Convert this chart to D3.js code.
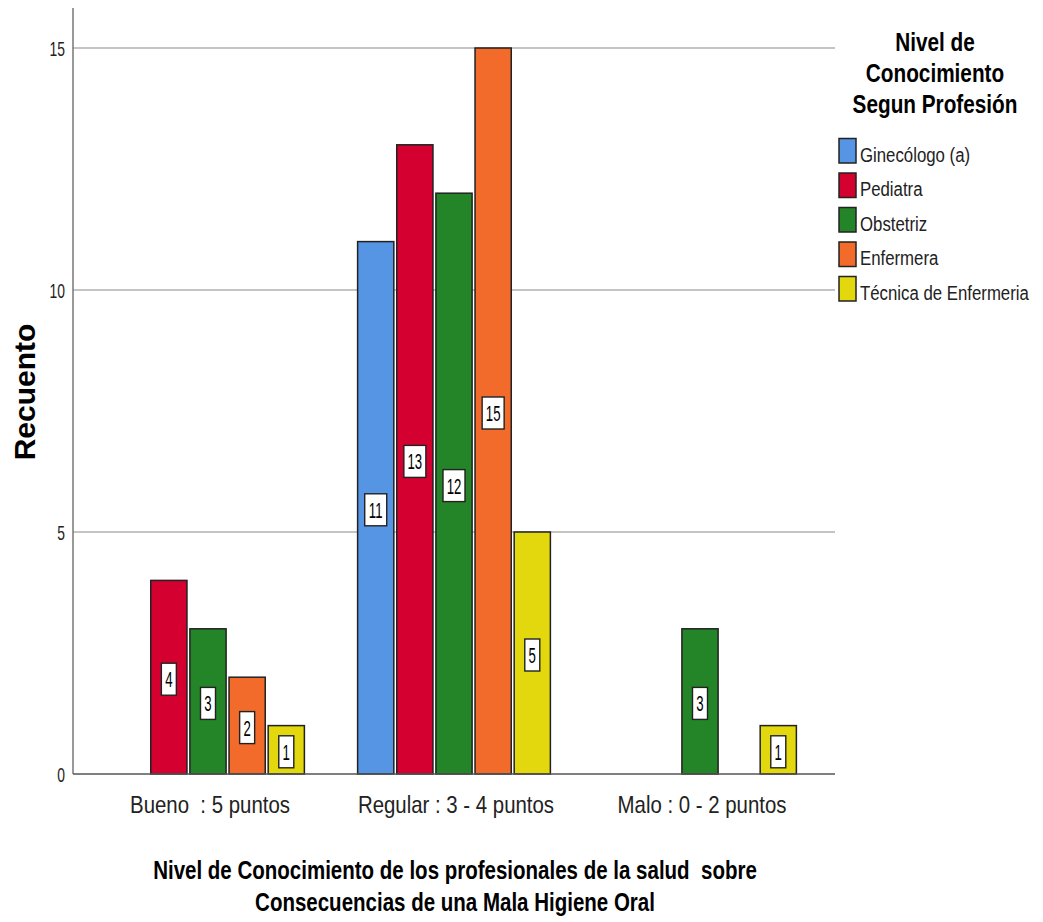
<!DOCTYPE html>
<html><head><meta charset="utf-8">
<script src="https://cdn.jsdelivr.net/npm/d3@7"></script>
<style>body{margin:0;background:#fff}svg{display:block}text{font-family:"Liberation Sans",Arial,sans-serif;white-space:pre}</style>
</head><body>
<svg id="c" width="1043" height="922"></svg>
<script>
const categories = ["Bueno  : 5 puntos", "Regular : 3 - 4 puntos", "Malo : 0 - 2 puntos"];
const seriesNames = ["Ginecólogo (a)", "Pediatra", "Obstetriz", "Enfermera", "Técnica de Enfermeria"];
const seriesColors = ["#5595e3", "#d4002f", "#248428", "#f26b2b", "#e2d80d"];
// values per series, in category order (null = no bar)
const ginecologo = [null, 11, null];
const pediatra = [4, 13, null];
const obstetriz = [3, 12, 3];
const enfermera = [2, 15, null];
const tecnica = [1, 5, 1];
const yTicks = [0, 5, 10, 15];
const legendTitle = ["Nivel de", "Conocimiento", "Segun Profesión"];
const xTitle = ["Nivel de Conocimiento de los profesionales de la salud  sobre", "Consecuencias de una Mala Higiene Oral"];
const yTitle = "Recuento";

const seriesValues = [ginecologo, pediatra, obstetriz, enfermera, tecnica];
const svg = d3.select("#c");
const mLeft = 73, mRight = 835, mTop = 8, mBottom = 774;

const x0 = d3.scaleBand().domain(categories).range([mLeft + 12, mRight - 12]).paddingInner(0).paddingOuter(0);
const x1 = d3.scaleBand().domain(seriesNames).range([0, x0.bandwidth()]).paddingInner(0.075).paddingOuter(0.68);
const y = d3.scaleLinear().domain([0, 15]).range([mBottom, 48]);

// text drawn with a horizontal squeeze factor (the reference font is condensed)
function ctext(g, x, yy, s, size, weight, anchor, sx) {
  return g.append("text").attr("transform", `translate(${x},${yy}) scale(${sx},1)`)
    .attr("text-anchor", anchor || "middle").attr("font-size", size).attr("font-weight", weight || "normal")
    .attr("fill", "#000").text(s);
}

// gridlines
svg.append("g").selectAll("line").data(yTicks.filter(d => d > 0)).join("line")
  .attr("x1", mLeft).attr("x2", mRight).attr("y1", d => y(d)).attr("y2", d => y(d))
  .attr("stroke", "#c4c4c4").attr("stroke-width", 2);

// y axis
const ya = svg.append("g").attr("transform", `translate(${mLeft},0)`)
  .call(d3.axisLeft(y).tickValues(yTicks).tickSize(0).tickPadding(0));
ya.select(".domain").remove();
ya.selectAll(".tick text").attr("x", null).attr("dy", null)
  .attr("transform", "translate(-8,7.5) scale(0.66,1)")
  .attr("font-size", 21).attr("fill", "#222").attr("text-anchor", "end")
  .attr("font-family", "Liberation Sans, Arial, sans-serif");
svg.append("line").attr("x1", mLeft).attr("x2", mLeft).attr("y1", mTop).attr("y2", mBottom).attr("stroke", "#777").attr("stroke-width", 1.5);

// bars
const data = [];
categories.forEach((c, ci) => seriesNames.forEach((s, si) => {
  const v = seriesValues[si][ci];
  if (v != null) data.push({c, s, v, color: seriesColors[si]});
}));
svg.append("g").selectAll("rect").data(data).join("rect")
  .attr("x", d => x0(d.c) + x1(d.s)).attr("width", x1.bandwidth())
  .attr("y", d => y(d.v)).attr("height", d => y(0) - y(d.v))
  .attr("fill", d => d.color).attr("stroke", "#222").attr("stroke-width", 1.5);

// value labels
const lab = svg.append("g");
data.forEach(d => {
  const cx = x0(d.c) + x1(d.s) + x1.bandwidth() / 2;
  const cy = (y(d.v) + y(0)) / 2 + 2;
  const w = String(d.v).length > 1 ? 22 : 15;
  lab.append("rect").attr("x", cx - w / 2).attr("y", cy - 16).attr("width", w).attr("height", 32)
    .attr("fill", "#fff").attr("stroke", "#222").attr("stroke-width", 1.4);
  ctext(lab, cx, cy + 8, String(d.v), 22, "normal", "middle", 0.6);
});

// x axis line
svg.append("line").attr("x1", mLeft).attr("x2", mRight).attr("y1", mBottom).attr("y2", mBottom).attr("stroke", "#555").attr("stroke-width", 1.5);

// x tick labels
categories.forEach(c => ctext(svg, x0(c) + x0.bandwidth() / 2 + 2, 813, c, 24, "normal", "middle", 0.85).attr("fill", "#222"));

// x title
xTitle.forEach((t, i) => ctext(svg, 455, 879 + i * 32, t, 25, "bold", "middle", 0.82));

// y title
svg.append("text").attr("transform", `translate(35,392) rotate(-90)`).attr("text-anchor", "middle")
  .attr("font-size", 30).attr("font-weight", "bold").attr("fill", "#000").text(yTitle);

// legend
legendTitle.forEach((t, i) => ctext(svg, 935, 51 + i * 31, t, 25, "bold", "middle", 0.83));
const lg = svg.append("g");
seriesNames.forEach((s, i) => {
  const yy = 138.5 + i * 34.5;
  lg.append("rect").attr("x", 839).attr("y", yy).attr("width", 17).attr("height", 24.5)
    .attr("fill", seriesColors[i]).attr("stroke", "#222").attr("stroke-width", 1.5);
  ctext(lg, 860, yy + 23, s, 21, "normal", "start", 0.8).attr("fill", "#222");
});
</script>
</body></html>
